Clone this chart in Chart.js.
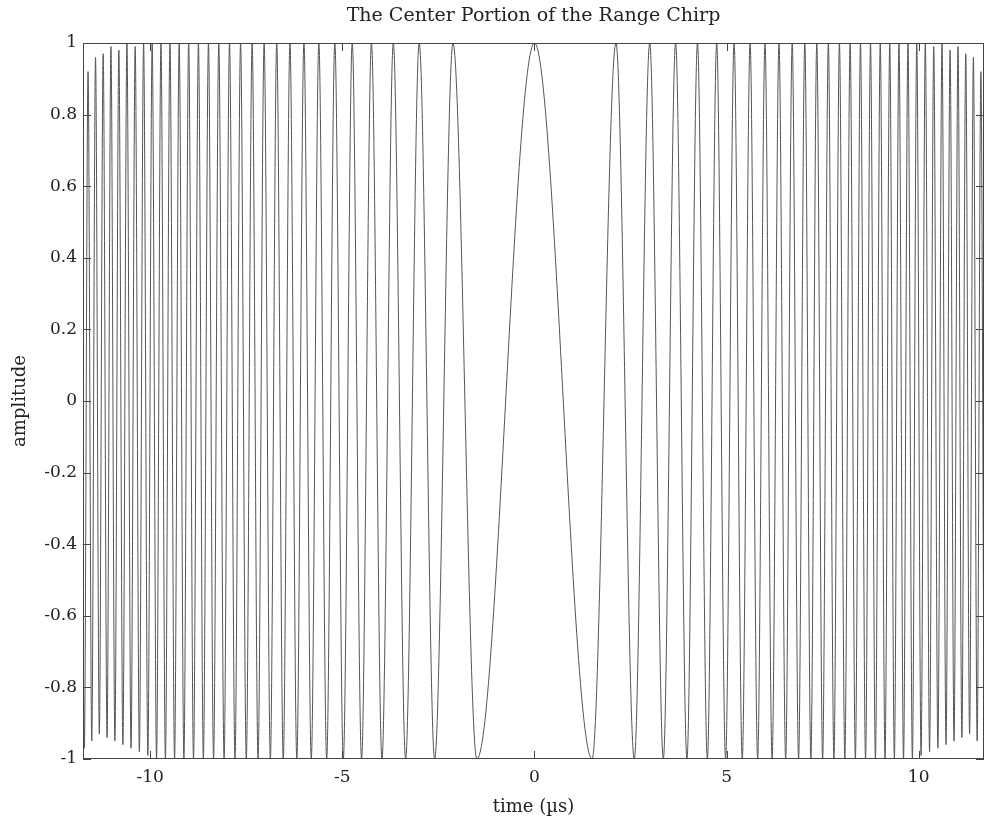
<!DOCTYPE html>
<html>
<head>
<meta charset="utf-8">
<script src="https://cdn.jsdelivr.net/npm/chart.js@4.4.1/dist/chart.umd.min.js"></script>
<style>
  html, body { margin: 0; padding: 0; background: #fff; }
  #wrap { width: 985px; height: 826px; }
</style>
</head>
<body>
<div id="wrap"><canvas id="chirp"></canvas></div>
<script>
// times (us) of the peaks / troughs on the right half
const extremaTimes = [0, 1.5, 2.121, 2.598, 3.0, 3.354, 3.674, 3.969, 4.243, 4.5,
  4.743, 4.975, 5.196, 5.408, 5.612, 5.809, 6.0, 6.185, 6.364, 6.538,
  6.708, 6.874, 7.036, 7.194, 7.348, 7.5, 7.649, 7.794, 7.937, 8.078,
  8.216, 8.352, 8.485, 8.617, 8.746, 8.874, 9.0, 9.124, 9.247, 9.367,
  9.487, 9.605, 9.721, 9.836, 9.95, 10.062, 10.173, 10.283, 10.392, 10.5,
  10.607, 10.712, 10.817, 10.92, 11.023, 11.124, 11.225, 11.325, 11.424, 11.522,
  11.619, 11.715, 11.811];
// amplitude at each of those peaks / troughs (outer ones are clipped by sampling)
const extremaValues = [1, -1, 1, -1, 1, -1, 1, -1, 1, -1,
  1, -1, 1, -1, 1, -1, 1, -1, 1, -1,
  1, -1, 1, -1, 1, -1, 1, -1, 1, -1,
  1, -1, 1, -1, 1, -1, 1, -1, 1, -1,
  1, -1, 1, -1, 1, -0.99, 1, -0.98, 0.99, -0.97,
  1, -0.96, 0.98, -0.95, 0.99, -0.94, 0.97, -0.93, 0.96, -0.95,
  0.92, -0.97, 0.94];
const xRange = [-11.75, 11.7];
const xTicks = [-10, -5, 0, 5, 10];
const yTicks = [-1, -0.8, -0.6, -0.4, -0.2, 0, 0.2, 0.4, 0.6, 0.8, 1];

let points = [];
for (let i = extremaTimes.length - 1; i > 0; i--) {
  points.push({ x: -extremaTimes[i], y: extremaValues[i] });
}
for (let i = 0; i < extremaTimes.length; i++) {
  points.push({ x: extremaTimes[i], y: extremaValues[i] });
}

const serif = '"DejaVu Serif", "Liberation Serif", serif';

// box round the plot and inward ticks, matlab style
const boxPlugin = {
  id: 'box',
  afterDraw(chart) {
    const c = chart.ctx;
    const a = chart.chartArea;
    const xs = chart.scales.x, ys = chart.scales.y;
    c.save();
    c.strokeStyle = '#444';
    c.lineWidth = 1;
    c.strokeRect(a.left + 0.5, a.top + 0.5, a.right - a.left - 1, a.bottom - a.top - 1);
    c.beginPath();
    xTicks.forEach(v => {
      const px = Math.round(xs.getPixelForValue(v)) + 0.5;
      c.moveTo(px, a.bottom); c.lineTo(px, a.bottom - 8);
      c.moveTo(px, a.top); c.lineTo(px, a.top + 8);
    });
    yTicks.forEach(v => {
      const py = Math.round(ys.getPixelForValue(v)) + 0.5;
      c.moveTo(a.left, py); c.lineTo(a.left + 8, py);
      c.moveTo(a.right, py); c.lineTo(a.right - 8, py);
    });
    c.stroke();
    c.restore();
  }
};

const myChirpChart = new Chart(document.getElementById('chirp'), {
  type: 'line',
  data: {
    datasets: [{
      data: points,
      borderColor: '#555',
      borderWidth: 1,
      pointRadius: 0,
      cubicInterpolationMode: 'monotone',
      fill: false
    }]
  },
  options: {
    responsive: true,
    maintainAspectRatio: false,
    animation: false,
    layout: { padding: { left: 0, right: 1, top: 0, bottom: 0 } },
    plugins: {
      legend: { display: false },
      tooltip: { enabled: false }
    },
    scales: {
      x: {
        type: 'linear',
        min: xRange[0],
        max: xRange[1],
        afterBuildTicks: s => { s.ticks = xTicks.map(v => ({ value: v })); },
        afterFit: s => { s.height = 67; },
        grid: { display: false, drawTicks: false },
        border: { display: false },
        ticks: { color: '#222', font: { family: serif, size: 17 }, padding: 8, maxRotation: 0 },
        title: {
          display: true,
          text: 'time (\u00b5s)',
          color: '#222',
          font: { family: serif, size: 18 },
          padding: { top: 0, bottom: 8 }
        }
      },
      // top axis only carries the title, so it is centred over the plot
      xTop: {
        type: 'linear',
        position: 'top',
        min: xRange[0],
        max: xRange[1],
        afterFit: s => { s.height = 43; },
        grid: { display: false, drawTicks: false },
        border: { display: false },
        ticks: { display: false },
        title: {
          display: true,
          text: 'The Center Portion of the Range Chirp',
          color: '#222',
          font: { family: serif, size: 19 },
          padding: { top: 5, bottom: 0 }
        }
      },
      y: {
        min: -1,
        max: 1,
        afterBuildTicks: s => { s.ticks = yTicks.map(v => ({ value: v })); },
        afterFit: s => { s.width = 83; },
        grid: { display: false, drawTicks: false },
        border: { display: false },
        ticks: {
          color: '#222',
          font: { family: serif, size: 17 },
          padding: 6,
          callback: v => String(Number(v.toFixed(1)))
        },
        title: {
          display: true,
          text: 'amplitude',
          color: '#222',
          font: { family: serif, size: 18 },
          padding: { top: 10, bottom: 0 }
        }
      }
    }
  },
  plugins: [boxPlugin]
});
</script>
</body>
</html>
